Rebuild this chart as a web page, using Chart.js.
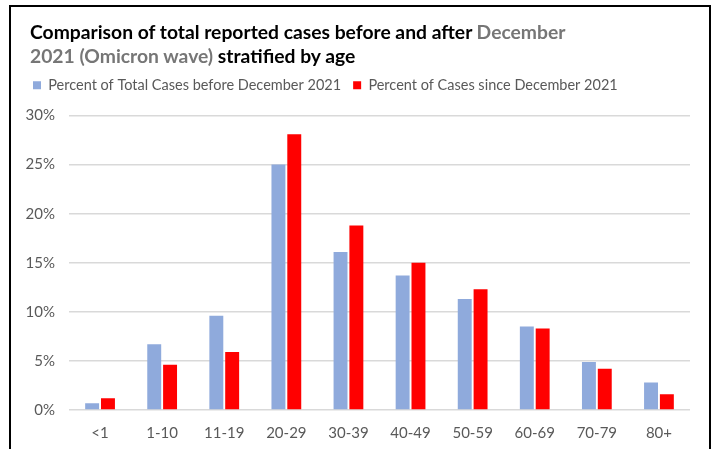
<!DOCTYPE html>
<html>
<head>
<meta charset="utf-8">
<script src="https://cdn.jsdelivr.net/npm/chart.js@4.4.0/dist/chart.umd.min.js"></script>
<style>
  body { margin: 0; background: #fff; }
  #wrap { position: relative; width: 713px; height: 449px; overflow: hidden; }
  #frame { position: absolute; left: 9px; top: 5px; width: 698px; height: 460px; border: 2px solid #000; border-bottom: none; }
  #title { position: absolute; left: 30px; top: 20px; font-family: Lato, "Open Sans", sans-serif; font-size: 19.3px; line-height: 24px; font-weight: bold; color: #000; white-space: nowrap; }
  #title .grey { color: #767676; }
  canvas { position: absolute; left: 0; top: 0; }
</style>
</head>
<body>
<div id="wrap">
  <canvas id="chart" width="713" height="449"></canvas>
  <div id="frame"></div>
  <div id="title">Comparison of total reported cases before and after <span class="grey">December<br>2021 (Omicron wave)</span> stratified by age</div>
</div>
<script>
  const ageGroups = ['<1', '1-10', '11-19', '20-29', '30-39', '40-49', '50-59', '60-69', '70-79', '80+'];
  const beforeDec = [0.7, 6.7, 9.6, 25.0, 16.1, 13.7, 11.3, 8.5, 4.9, 2.8];
  const sinceDec = [1.2, 4.6, 5.9, 28.1, 18.8, 15.0, 12.3, 8.3, 4.2, 1.6];
  const yTicks = [0, 5, 10, 15, 20, 25, 30];

  const font = "Lato, 'Open Sans', sans-serif";

  // extra gap under the legend
  const legendGap = {
    id: 'legendGap',
    beforeInit(chart) {
      const fit = chart.legend.fit;
      chart.legend.fit = function () {
        fit.bind(chart.legend)();
        this.height += 13;
      };
    }
  };

  const ctx = document.getElementById('chart').getContext('2d');
  new Chart(ctx, {
    type: 'bar',
    data: {
      labels: ageGroups,
      datasets: [
        {
          label: 'Percent of Total Cases before December 2021',
          data: beforeDec,
          backgroundColor: '#8faadc',
          categoryPercentage: 0.51,
          barPercentage: 0.88
        },
        {
          label: 'Percent of Cases since December 2021',
          data: sinceDec,
          backgroundColor: '#ff0000',
          categoryPercentage: 0.51,
          barPercentage: 0.88
        }
      ]
    },
    options: {
      responsive: false,
      animation: false,
      layout: { padding: { left: 21, right: 23, top: 66, bottom: 0 } },
      plugins: {
        legend: {
          position: 'top',
          align: 'start',
          labels: {
            boxWidth: 8,
            boxHeight: 8,
            padding: 12,
            color: '#595959',
            font: { family: font, size: 14.5 }
          }
        },
        tooltip: { enabled: false }
      },
      scales: {
        x: {
          grid: { display: false, drawTicks: false },
          border: { display: false },
          ticks: { color: '#595959', padding: 14, font: { family: font, size: 15 } },
          afterFit: (scale) => { scale.height = 39; }
        },
        y: {
          min: 0,
          max: 30,
          afterBuildTicks: (scale) => { scale.ticks = yTicks.map(v => ({ value: v })); },
          grid: { color: '#d9d9d9', lineWidth: 1.5, drawTicks: false },
          border: { display: false },
          ticks: {
            color: '#595959',
            padding: 14,
            font: { family: font, size: 15 },
            callback: (v) => v + '%'
          },
          afterFit: (scale) => { scale.width = 48; }
        }
      }
    },
    plugins: [legendGap]
  });
</script>
</body>
</html>
